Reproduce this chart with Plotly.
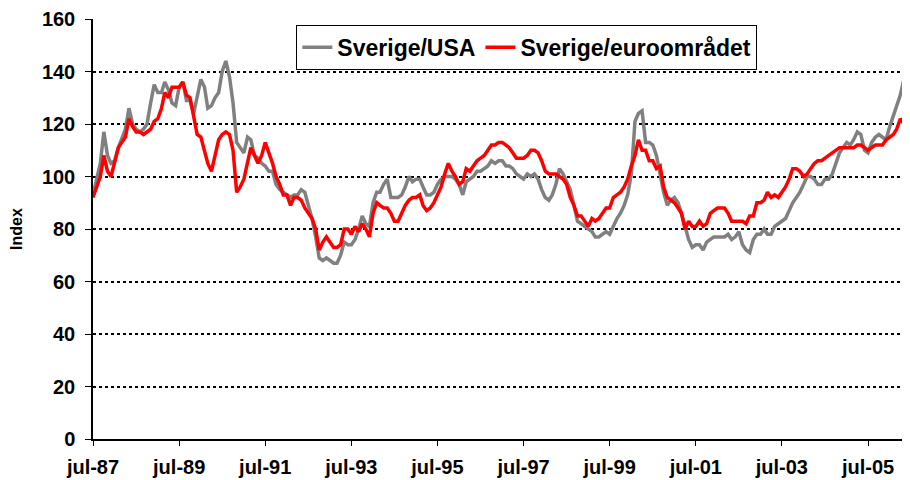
import pandas as pd
import plotly.graph_objects as go

# Monthly index values, jul-87 onwards
sverige_usa = [
    93, 99, 105, 117, 108, 105, 106, 111, 114, 118, 126, 120,
    118, 117, 118, 120, 128, 135, 132, 132, 136, 133, 128, 127,
    134, 136, 129, 129, 124, 130, 137, 134, 126, 127, 130, 132,
    140, 144, 138, 128, 113, 111, 109, 115, 114, 108, 107, 105,
    104, 102, 102, 97, 95, 94, 93, 92, 93, 93, 95, 94,
    89, 84, 77, 69, 68, 69, 68, 67, 67, 70, 75, 74,
    74, 76, 80, 85, 82, 81, 90, 94, 94, 97, 99, 92,
    92, 92, 93, 96, 100, 98, 99, 99, 96, 93, 93, 94,
    97, 99, 100, 100, 100, 99, 97, 93, 98, 99, 100, 102,
    102, 103, 104, 106, 105, 106, 106, 104, 104, 103, 101, 100,
    99, 101, 100, 101, 99, 95, 92, 91, 93, 97, 103, 101,
    98, 95, 89, 83, 82, 81, 80, 79, 77, 77, 78, 79,
    78, 81, 84, 86, 89, 93, 101, 121, 124, 125, 113, 113,
    112, 108, 101, 94, 89, 91, 92, 90, 86, 81, 76, 73,
    74, 74, 72, 75, 76, 77, 77, 77, 77, 78, 76, 77,
    79, 74, 72, 71, 76, 78, 78, 80, 78, 78, 81, 82,
    83, 84, 87, 90, 92, 94, 97, 100, 100, 99, 97, 97,
    99, 99, 101, 105, 109, 111, 113, 112, 114, 117, 116, 110,
    109, 113, 115, 116, 115, 114, 119, 123, 126, 131, 137, 131,
]

sverige_euro = [
    92, 96, 100, 108, 102, 100, 106, 111, 113, 115, 122, 119,
    117, 117, 116, 117, 118, 121, 122, 126, 132, 130, 134, 134,
    134, 136, 131, 130, 123, 116, 115, 110, 105, 102, 108, 114,
    116, 117, 116, 110, 94, 96, 99, 106, 111, 108, 105, 108,
    113, 109, 105, 100, 97, 93, 93, 89, 92, 92, 91, 88,
    86, 84, 80, 72, 75, 77, 75, 73, 73, 74, 80, 80,
    78, 81, 79, 82, 80, 77, 86, 90, 89, 88, 88, 86,
    83, 83, 86, 89, 91, 92, 92, 93, 89, 87, 88, 90,
    93, 96, 101, 105, 102, 100, 97, 98, 103, 102, 104, 106,
    107, 108, 110, 112, 112, 113, 113, 112, 111, 109, 107, 107,
    107, 108, 110, 110, 109, 106, 102, 101, 101, 101, 100, 99,
    97, 92, 89, 85, 85, 83, 81, 84, 83, 84, 86, 88,
    88, 92, 93, 94, 96, 99, 104, 108, 114, 110, 110, 106,
    106, 103, 104, 96, 92, 91, 90, 88, 86, 80, 83, 81,
    81, 83, 81, 82, 86, 87, 88, 88, 88, 86, 83, 83,
    83, 83, 82, 85, 85, 90, 90, 91, 94, 92, 93, 92,
    94, 96, 99, 103, 103, 102, 100, 101, 103, 105, 106, 106,
    107, 108, 109, 110, 111, 111, 111, 111, 111, 112, 112, 111,
    110, 111, 112, 112, 112, 114, 115, 116, 118, 122, 120, 118,
]

months = pd.date_range("1987-07-01", periods=len(sverige_usa), freq="MS")

tick_dates = ["1987-07-01", "1989-07-01", "1991-07-01", "1993-07-01", "1995-07-01",
              "1997-07-01", "1999-07-01", "2001-07-01", "2003-07-01", "2005-07-01"]
tick_labels = ["jul-87", "jul-89", "jul-91", "jul-93", "jul-95",
               "jul-97", "jul-99", "jul-01", "jul-03", "jul-05"]
y_ticks = [0, 20, 40, 60, 80, 100, 120, 140, 160]

FONT = "Liberation Sans, Arial, sans-serif"

fig = go.Figure()
fig.add_trace(go.Scatter(x=months, y=sverige_usa, mode="lines", name="Sverige/USA",
                         line=dict(color="#808080", width=3.5)))
fig.add_trace(go.Scatter(x=months, y=sverige_euro, mode="lines", name="Sverige/euroområdet",
                         line=dict(color="#FF0000", width=3.5)))

fig.update_layout(
    width=910, height=480,
    margin=dict(l=85, r=0, t=11, b=49),
    paper_bgcolor="white", plot_bgcolor="white",
    font=dict(family=FONT, color="black", size=19, weight="bold"),
    showlegend=True,
    legend=dict(
        orientation="h", x=0.2465, y=0.986, xanchor="left", yanchor="top",
        bgcolor="white", bordercolor="black", borderwidth=1,
        font=dict(family=FONT, size=23, color="black", weight="bold"),
        itemwidth=30,
    ),
    xaxis=dict(
        type="date",
        range=["1987-07-01", "2006-08-29"],
        tickvals=tick_dates, ticktext=tick_labels,
        ticks="outside", ticklen=5, tickcolor="black", tickwidth=1,
        showline=True, linecolor="black", linewidth=1.5,
        showgrid=False, zeroline=False, automargin=False,
        tickfont=dict(size=20, family=FONT, weight="bold"),
        ticklabelstandoff=4,
    ),
    yaxis=dict(
        range=[0, 160],
        tickvals=y_ticks,
        ticks="outside", ticklen=6, tickcolor="black", tickwidth=1,
        showline=True, linecolor="black", linewidth=1.5,
        showgrid=True, gridcolor="black", gridwidth=2, griddash="dot",
        zeroline=False, automargin=False,
        tickfont=dict(size=20, family=FONT, weight="bold"),
        ticklabelstandoff=6,
        title=dict(text="Index", font=dict(size=16, family=FONT, weight="bold"), standoff=18),
    ),
)

fig.write_html("out.html")
